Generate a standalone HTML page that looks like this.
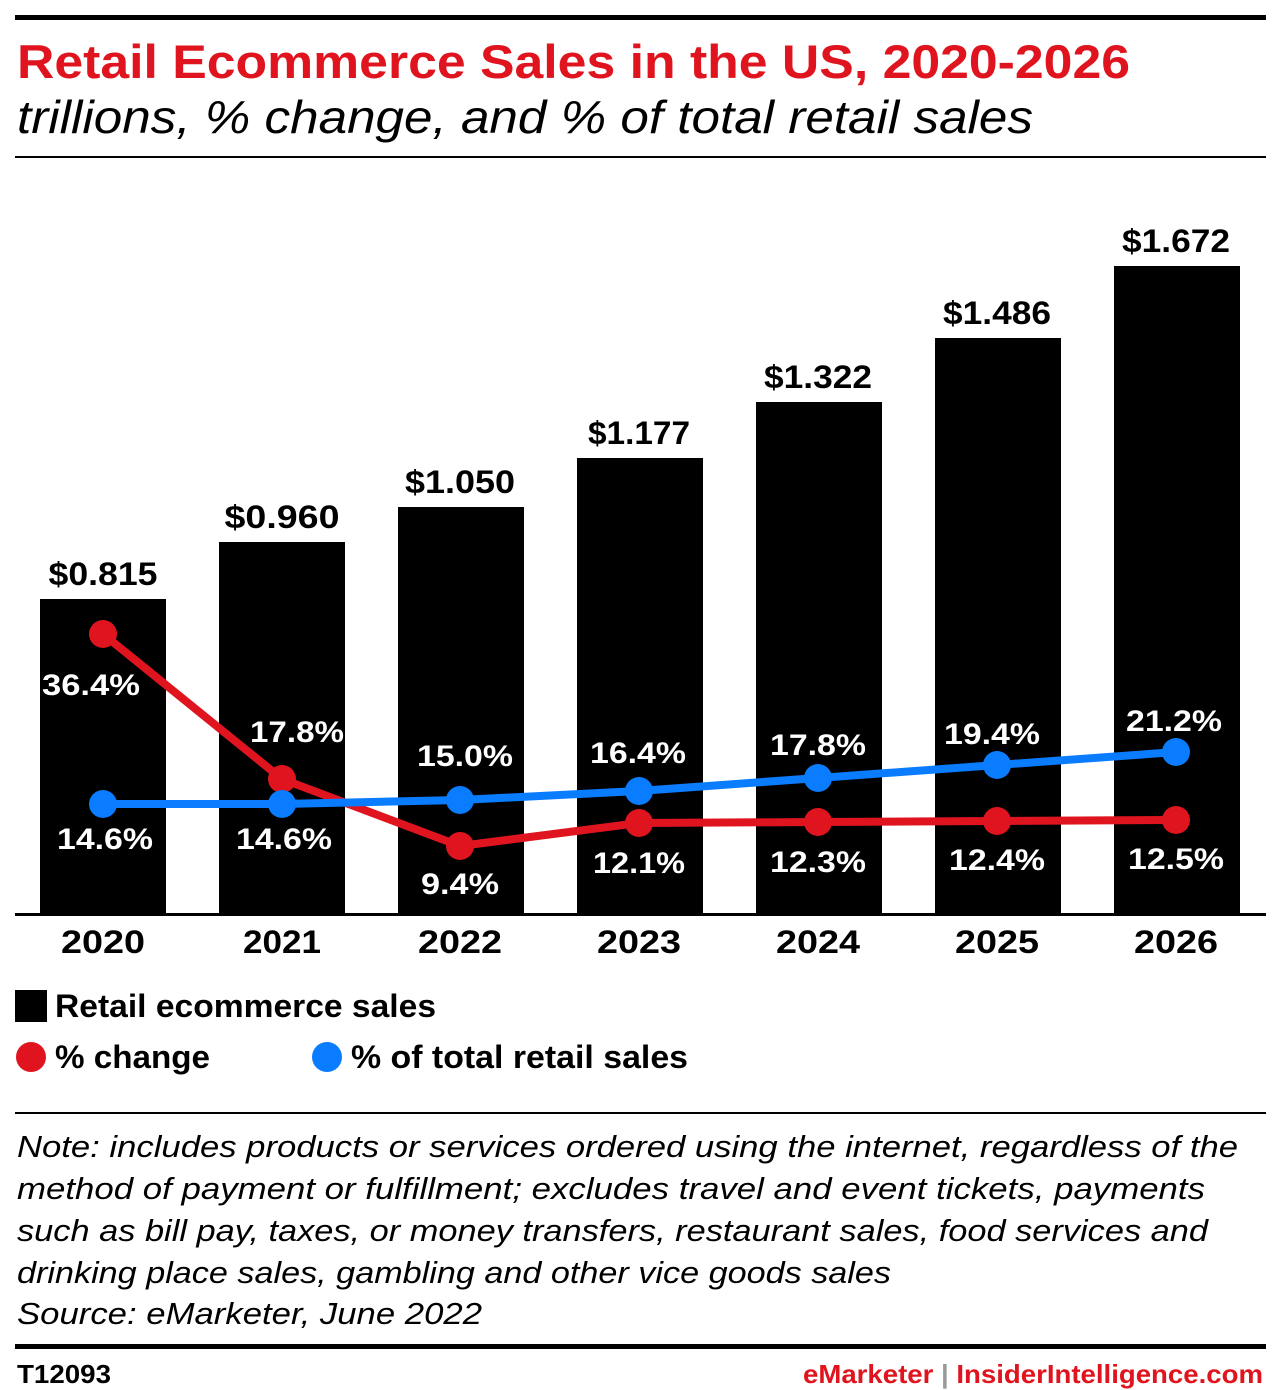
<!DOCTYPE html>
<html><head><meta charset="utf-8"><style>
html,body{margin:0;padding:0;background:#fff;}
svg{display:block;font-family:"Liberation Sans",sans-serif;}
</style></head><body>
<svg width="1280" height="1390" viewBox="0 0 1280 1390">
<rect x="15" y="15" width="1251" height="5" fill="#000"/>
<text x="17" y="78" font-size="47" font-weight="bold" fill="#e0141e" textLength="1113" lengthAdjust="spacingAndGlyphs">Retail Ecommerce Sales in the US, 2020-2026</text>
<text x="17" y="133" font-size="46" font-style="italic" fill="#000" textLength="1016" lengthAdjust="spacingAndGlyphs">trillions, % change, and % of total retail sales</text>
<rect x="15" y="156" width="1251" height="2" fill="#000"/>
<g fill="#000">
<rect x="40" y="599" width="126" height="316"/>
<rect x="219" y="542" width="126" height="373"/>
<rect x="398" y="507" width="126" height="408"/>
<rect x="577" y="458" width="126" height="457"/>
<rect x="756" y="402" width="126" height="513"/>
<rect x="935" y="338" width="126" height="577"/>
<rect x="1114" y="266" width="126" height="649"/>
</g>
<rect x="15" y="913" width="1251" height="3" fill="#000"/>
<g font-size="32" font-weight="bold" text-anchor="middle" fill="#000" lengthAdjust="spacingAndGlyphs">
<text x="103" y="585" textLength="109" lengthAdjust="spacingAndGlyphs">$0.815</text><text x="282" y="528" textLength="115" lengthAdjust="spacingAndGlyphs">$0.960</text><text x="460" y="493" textLength="110" lengthAdjust="spacingAndGlyphs">$1.050</text>
<text x="639" y="444" textLength="102" lengthAdjust="spacingAndGlyphs">$1.177</text><text x="818" y="388" textLength="108" lengthAdjust="spacingAndGlyphs">$1.322</text><text x="997" y="324" textLength="108" lengthAdjust="spacingAndGlyphs">$1.486</text><text x="1176" y="252" textLength="108" lengthAdjust="spacingAndGlyphs">$1.672</text>
<text x="103" y="953" textLength="84" lengthAdjust="spacingAndGlyphs">2020</text><text x="282" y="953" textLength="78" lengthAdjust="spacingAndGlyphs">2021</text><text x="460" y="953" textLength="84" lengthAdjust="spacingAndGlyphs">2022</text>
<text x="639" y="953" textLength="84" lengthAdjust="spacingAndGlyphs">2023</text><text x="818" y="953" textLength="84" lengthAdjust="spacingAndGlyphs">2024</text><text x="997" y="953" textLength="84" lengthAdjust="spacingAndGlyphs">2025</text><text x="1176" y="953" textLength="84" lengthAdjust="spacingAndGlyphs">2026</text>
</g>
<polyline points="103,634 282,779 460,846 639,823 818,822 997,821 1176,820" fill="none" stroke="#e0141e" stroke-width="8"/>
<polyline points="103,804 282,804 460,800 639,791 818,778 997,765 1176,752" fill="none" stroke="#0a7cff" stroke-width="8"/>
<g fill="#e0141e"><circle cx="103" cy="634" r="14"/><circle cx="282" cy="779" r="14"/><circle cx="460" cy="846" r="14"/><circle cx="639" cy="823" r="14"/><circle cx="818" cy="822" r="14"/><circle cx="997" cy="821" r="14"/><circle cx="1176" cy="820" r="14"/></g>
<g fill="#0a7cff"><circle cx="103" cy="804" r="14"/><circle cx="282" cy="804" r="14"/><circle cx="460" cy="800" r="14"/><circle cx="639" cy="791" r="14"/><circle cx="818" cy="778" r="14"/><circle cx="997" cy="765" r="14"/><circle cx="1176" cy="752" r="14"/></g>
<g font-size="30" font-weight="bold" text-anchor="middle" fill="#fff">
<text x="91" y="695" textLength="98" lengthAdjust="spacingAndGlyphs">36.4%</text><text x="297" y="742" textLength="94" lengthAdjust="spacingAndGlyphs">17.8%</text><text x="460" y="894" textLength="78" lengthAdjust="spacingAndGlyphs">9.4%</text>
<text x="639" y="873" textLength="92" lengthAdjust="spacingAndGlyphs">12.1%</text><text x="818" y="872" textLength="96" lengthAdjust="spacingAndGlyphs">12.3%</text><text x="997" y="870" textLength="96" lengthAdjust="spacingAndGlyphs">12.4%</text><text x="1176" y="869" textLength="96" lengthAdjust="spacingAndGlyphs">12.5%</text>
<text x="105" y="849" textLength="96" lengthAdjust="spacingAndGlyphs">14.6%</text><text x="284" y="849" textLength="96" lengthAdjust="spacingAndGlyphs">14.6%</text><text x="465" y="766" textLength="96" lengthAdjust="spacingAndGlyphs">15.0%</text>
<text x="638" y="763" textLength="96" lengthAdjust="spacingAndGlyphs">16.4%</text><text x="818" y="755" textLength="96" lengthAdjust="spacingAndGlyphs">17.8%</text><text x="992" y="744" textLength="96" lengthAdjust="spacingAndGlyphs">19.4%</text><text x="1174" y="731" textLength="96" lengthAdjust="spacingAndGlyphs">21.2%</text>
</g>
<rect x="15" y="990" width="32" height="32" fill="#000"/>
<text x="55" y="1017" font-size="32" font-weight="bold" textLength="381" lengthAdjust="spacingAndGlyphs">Retail ecommerce sales</text>
<circle cx="31" cy="1057" r="15" fill="#e0141e"/>
<text x="55" y="1068" font-size="32" font-weight="bold" textLength="155" lengthAdjust="spacingAndGlyphs">% change</text>
<circle cx="327" cy="1057" r="15" fill="#0a7cff"/>
<text x="351" y="1068" font-size="32" font-weight="bold" textLength="337" lengthAdjust="spacingAndGlyphs">% of total retail sales</text>
<rect x="15" y="1112" width="1251" height="2" fill="#000"/>
<g font-size="31" font-style="italic" fill="#000">
<text x="17" y="1157" textLength="1221" lengthAdjust="spacingAndGlyphs">Note: includes products or services ordered using the internet, regardless of the</text>
<text x="17" y="1199" textLength="1188" lengthAdjust="spacingAndGlyphs">method of payment or fulfillment; excludes travel and event tickets, payments</text>
<text x="17" y="1241" textLength="1191" lengthAdjust="spacingAndGlyphs">such as bill pay, taxes, or money transfers, restaurant sales, food services and</text>
<text x="17" y="1283" textLength="874" lengthAdjust="spacingAndGlyphs">drinking place sales, gambling and other vice goods sales</text>
<text x="17" y="1324" textLength="465" lengthAdjust="spacingAndGlyphs">Source: eMarketer, June 2022</text>
</g>
<rect x="15" y="1344" width="1251" height="5" fill="#000"/>
<text x="17" y="1383" font-size="26" font-weight="bold" textLength="94" lengthAdjust="spacingAndGlyphs">T12093</text>
<text x="803" y="1383" font-size="26" font-weight="bold" textLength="460" lengthAdjust="spacingAndGlyphs"><tspan fill="#e0141e">eMarketer</tspan><tspan fill="#999"> | </tspan><tspan fill="#e0141e">InsiderIntelligence.com</tspan></text>
</svg>
</body></html>
